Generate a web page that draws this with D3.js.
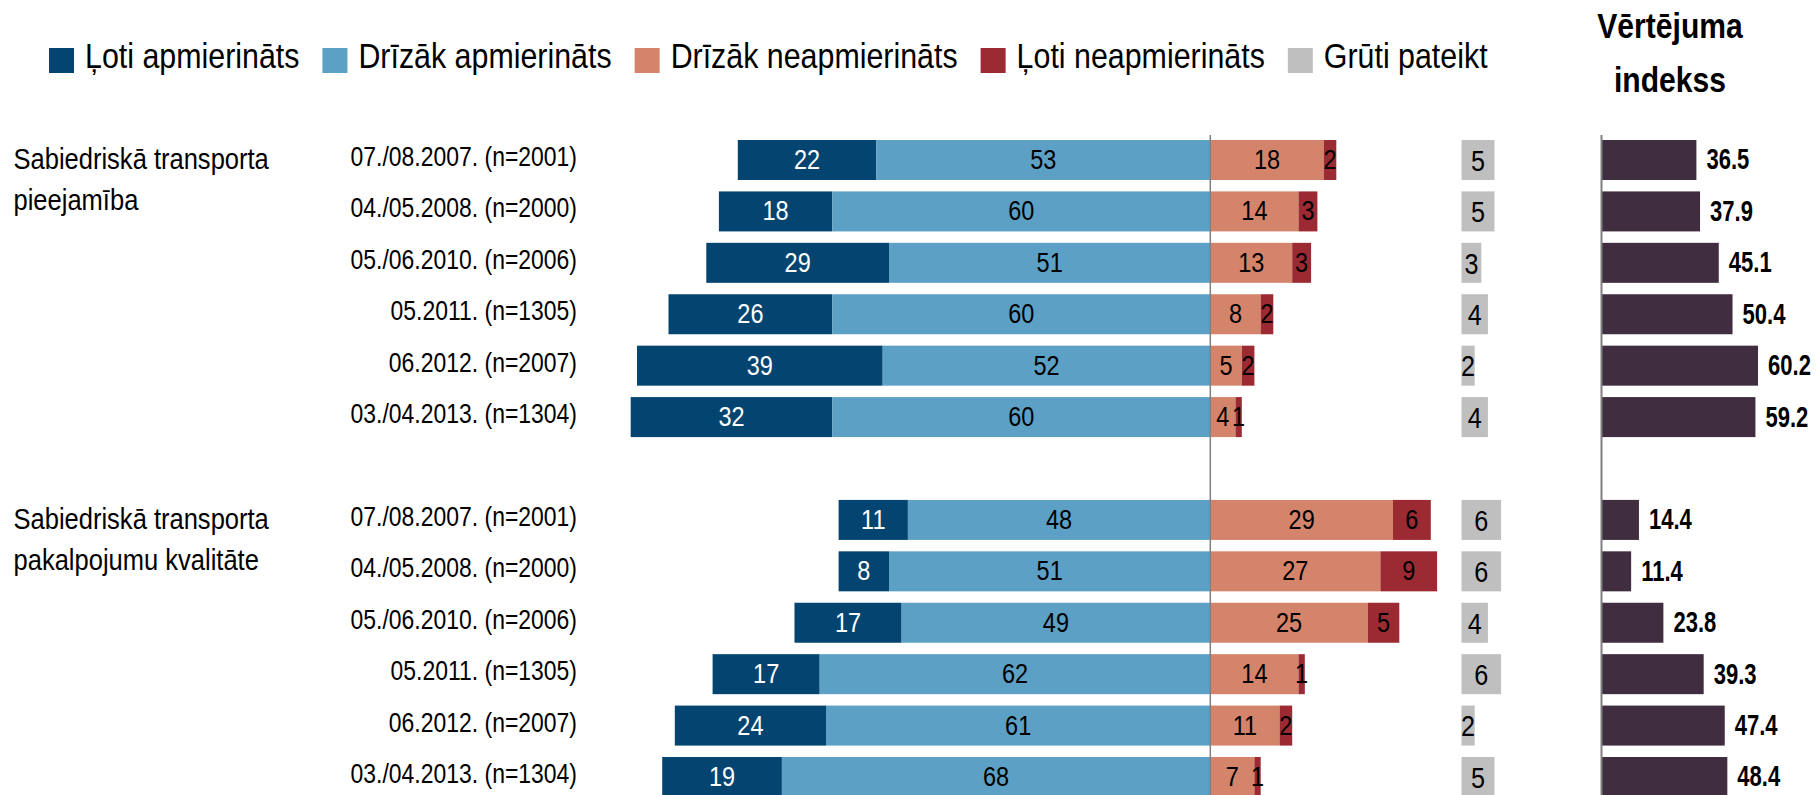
<!DOCTYPE html>
<html><head><meta charset="utf-8">
<script src="https://cdn.jsdelivr.net/npm/d3@7"></script>
<style>html,body{margin:0;padding:0;background:#fff;overflow:hidden;} svg{display:block;}</style>
</head><body>
<svg id="chart" width="1816" height="795"></svg>
<script>
// ---------- DATA ----------
const groupLabels = [["Sabiedriskā transporta", "pieejamība"], ["Sabiedriskā transporta", "pakalpojumu kvalitāte"]];
const periods = ["07./08.2007. (n=2001)", "04./05.2008. (n=2000)", "05./06.2010. (n=2006)", "05.2011. (n=1305)", "06.2012. (n=2007)", "03./04.2013. (n=1304)"];
const seriesNames = ["Ļoti apmierināts", "Drīzāk apmierināts", "Drīzāk neapmierināts", "Ļoti neapmierināts", "Grūti pateikt"];
const veryS   = [[22, 18, 29, 26, 39, 32], [11, 8, 17, 17, 24, 19]];
const ratherS = [[53, 60, 51, 60, 52, 60], [48, 51, 49, 62, 61, 68]];
const ratherD = [[18, 14, 13, 8, 5, 4], [29, 27, 25, 14, 11, 7]];
const veryD   = [[2, 3, 3, 2, 2, 1], [6, 9, 5, 1, 2, 1]];
const hard    = [[5, 5, 3, 4, 2, 4], [6, 6, 4, 6, 2, 5]];
const indexVals = [[36.5, 37.9, 45.1, 50.4, 60.2, 59.2], [14.4, 11.4, 23.8, 39.3, 47.4, 48.4]];
const indexTitle = ["Vērtējuma", "indekss"];

// ---------- STYLE ----------
const colors = ["#034570", "#5CA1C5", "#D4846A", "#9B2A33", "#BFBFBF"];
const indexColor = "#402D3F";
const FONT = "'Liberation Sans', Arial, sans-serif";

const svg = d3.select("#chart");

// ---------- SCALES ----------
const slots = d3.range(13);
const y = d3.scaleBand().domain(slots).range([140, 797]).paddingInner(0.222).paddingOuter(0);
const x = d3.scaleLinear().domain([-100, 100]).range([580.3, 1840.3]);
const xg = d3.scaleLinear().domain([0, 10]).range([1461.5, 1527.5]);
const xi = d3.scaleLinear().domain([0, 100]).range([1601.5, 1861.5]);

function txt(sel, px, py, s, o) {
  o = o || {};
  return sel.append("text")
    .attr("transform", `translate(${px},${py}) scale(${o.sx || 0.88},1)`)
    .attr("text-anchor", o.anchor || "start")
    .style("font-family", FONT)
    .style("font-size", (o.size || 26) + "px")
    .style("font-weight", o.weight || "normal")
    .style("fill", o.fill || "#000")
    .text(s);
}

// rows
const rows = [];
for (let g = 0; g < 2; g++) {
  for (let i = 0; i < 6; i++) {
    rows.push({ g, i, slot: g * 7 + i, period: periods[i],
      vs: veryS[g][i], rs: ratherS[g][i], rd: ratherD[g][i], vd: veryD[g][i],
      h: hard[g][i], idx: indexVals[g][i] });
  }
}

const bw = y.bandwidth();
const yc = d => y(d.slot) + bw / 2;

// ---------- LEGEND ----------
const leg = svg.append("g");
const LSX = 0.868;
let lx = 49;
seriesNames.forEach((name, k) => {
  leg.append("rect").attr("x", lx).attr("y", 48).attr("width", 25).attr("height", 25).attr("fill", colors[k]);
  const t = txt(leg, lx + 36, 67.5, name, { size: 35, sx: LSX });
  const w = t.node().getComputedTextLength() * LSX;
  lx += 36 + w + 23;
});
txt(svg, 1670, 38, indexTitle[0], { size: 35, weight: "bold", anchor: "middle", sx: 0.86 });
txt(svg, 1670, 91.5, indexTitle[1], { size: 35, weight: "bold", anchor: "middle", sx: 0.86 });

// ---------- GROUP & ROW LABELS ----------
groupLabels.forEach((lines, g) => {
  const first = rows.find(r => r.g === g);
  lines.forEach((l, j) => txt(svg, 13.5, yc(first) + 9 + j * 41, l, { size: 29.5, sx: 0.865 }));
});
rows.forEach(r => txt(svg, 577, yc(r) + 6, r.period, { size: 27, anchor: "end", sx: 0.85 }));

// ---------- DIVERGING BARS ----------
const segs = [];
rows.forEach(r => {
  segs.push({ r, k: 0, x0: -(r.vs + r.rs), x1: -r.rs, v: r.vs });
  segs.push({ r, k: 1, x0: -r.rs, x1: 0, v: r.rs });
  segs.push({ r, k: 2, x0: 0, x1: r.rd, v: r.rd });
  segs.push({ r, k: 3, x0: r.rd, x1: r.rd + r.vd, v: r.vd });
});
const bars = svg.append("g");
bars.selectAll("rect").data(segs).join("rect")
  .attr("x", d => x(d.x0)).attr("width", d => x(d.x1) - x(d.x0))
  .attr("y", d => y(d.r.slot)).attr("height", bw)
  .attr("fill", d => colors[d.k]);
segs.forEach(d => txt(bars, (x(d.x0) + x(d.x1)) / 2, yc(d.r) + 0.36 * 28 - 1, d.v,
  { size: 28, anchor: "middle", sx: 0.84, fill: d.k === 0 ? "#fff" : "#000" }));

svg.append("line").attr("x1", x(0)).attr("x2", x(0)).attr("y1", 135).attr("y2", 795)
  .attr("stroke", "#808080").attr("stroke-width", 1.5);

// ---------- HARD TO SAY ----------
const hg = svg.append("g");
hg.selectAll("rect").data(rows).join("rect")
  .attr("x", xg(0)).attr("width", d => xg(d.h) - xg(0))
  .attr("y", d => y(d.slot)).attr("height", bw).attr("fill", colors[4]);
rows.forEach(r => txt(hg, (xg(0) + xg(r.h)) / 2, yc(r) + 0.36 * 30, r.h, { size: 30, anchor: "middle", sx: 0.84 }));

// ---------- INDEX ----------
const ig = svg.append("g");
ig.selectAll("rect").data(rows).join("rect")
  .attr("x", xi(0)).attr("width", d => xi(d.idx) - xi(0))
  .attr("y", d => y(d.slot)).attr("height", bw).attr("fill", indexColor);
rows.forEach(r => txt(ig, xi(r.idx) + 10, yc(r) + 0.36 * 29 - 1, r.idx.toFixed(1), { size: 29, weight: "bold", sx: 0.76 }));
svg.append("line").attr("x1", xi(0)).attr("x2", xi(0)).attr("y1", 135).attr("y2", 795)
  .attr("stroke", "#7F7F7F").attr("stroke-width", 2);
</script>
</body></html>
